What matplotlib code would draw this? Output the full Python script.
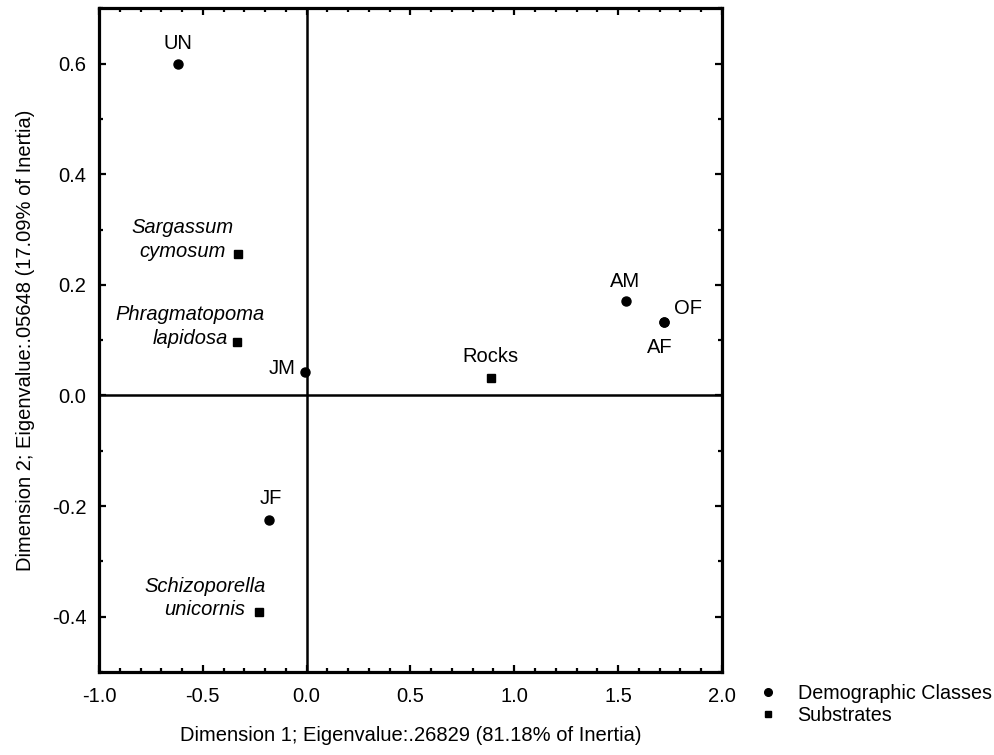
import matplotlib
matplotlib.use('Agg')
import matplotlib.pyplot as plt
from matplotlib.lines import Line2D
from matplotlib.ticker import MultipleLocator

plt.rcParams['font.family'] = ['Liberation Sans', 'DejaVu Sans']

# demographic classes (circles)
class_names = ['UN', 'JM', 'JF', 'AM', 'AF', 'OF']
class_x = [-0.62, -0.01, -0.18, 1.54, 1.72, 1.72]
class_y = [0.60, 0.043, -0.226, 0.170, 0.132, 0.132]

# substrates (squares)
substrate_names = ['Sargassum\ncymosum', 'Phragmatopoma\nlapidosa', 'Schizoporella\nunicornis', 'Rocks']
substrate_x = [-0.33, -0.335, -0.23, 0.89]
substrate_y = [0.255, 0.096, -0.392, 0.031]

x_label = 'Dimension 1; Eigenvalue:.26829 (81.18% of Inertia)'
y_label = 'Dimension 2; Eigenvalue:.05648 (17.09% of Inertia)'

fs = 14.5

fig = plt.figure(figsize=(9.95, 7.55), dpi=100)
ax = fig.add_axes([0.0995, 0.110, 0.626, 0.879])

ax.axhline(0, color='black', lw=1.8, zorder=1)
ax.axvline(0, color='black', lw=1.8, zorder=1)

ax.plot(class_x, class_y, 'o', color='black', ms=6.5, zorder=3, ls='none')
ax.plot(substrate_x, substrate_y, 's', color='black', ms=5.5, zorder=3, ls='none')

# label offsets in pixels (dx, dy, ha)
class_offsets = {
    'UN': (0, 20, 'center'),
    'JM': (-9, 3, 'right'),
    'JF': (2, 22, 'center'),
    'AM': (-1, 20, 'center'),
    'AF': (-4, -25, 'center'),
    'OF': (24, 14, 'center'),
}
for name, x, y in zip(class_names, class_x, class_y):
    dx, dy, ha = class_offsets[name]
    ax.annotate(name, (x, y), xytext=(dx, dy), textcoords='offset pixels',
                ha=ha, va='center', fontsize=fs)

sub_offsets = [(-56, 15), (-47, 16), (-54, 14), (-1, 22)]
for name, x, y, (dx, dy) in zip(substrate_names, substrate_x, substrate_y, sub_offsets):
    style = 'normal' if name == 'Rocks' else 'italic'
    ax.annotate(name, (x, y), xytext=(dx, dy), textcoords='offset pixels',
                ha='center', va='center', fontsize=fs, style=style,
                multialignment='center', linespacing=1.3)

ax.set_xlim(-1.0, 2.0)
ax.set_ylim(-0.5, 0.7)
ax.xaxis.set_major_locator(MultipleLocator(0.5))
ax.xaxis.set_minor_locator(MultipleLocator(0.1))
ax.yaxis.set_major_locator(MultipleLocator(0.2))
ax.yaxis.set_minor_locator(MultipleLocator(0.1))
ax.xaxis.set_major_formatter(lambda v, p: f'{v:.1f}')
ax.yaxis.set_major_formatter(lambda v, p: f'{v:.1f}')

ax.tick_params(which='both', direction='in', top=True, right=True, color='black', width=1.6)
ax.tick_params(which='major', length=5)
ax.tick_params(which='minor', length=3)
ax.tick_params(axis='x', which='major', labelsize=fs, pad=11)
ax.tick_params(axis='y', which='major', labelsize=fs, pad=9)
for s in ax.spines.values():
    s.set_linewidth(2.3)

ax.set_xlabel(x_label, fontsize=fs, labelpad=14)
ax.set_ylabel(y_label, fontsize=fs, labelpad=12)

handles = [
    Line2D([], [], marker='o', color='black', ls='none', ms=5.5),
    Line2D([], [], marker='s', color='black', ls='none', ms=5),
]
fig.legend(handles, ['Demographic Classes', 'Substrates'], loc='upper left',
           bbox_to_anchor=(0.752, 0.107), frameon=False, fontsize=14.2,
           handletextpad=1.0, labelspacing=0.15, borderpad=0, handlelength=1)

fig.savefig('out.png', dpi=100)
